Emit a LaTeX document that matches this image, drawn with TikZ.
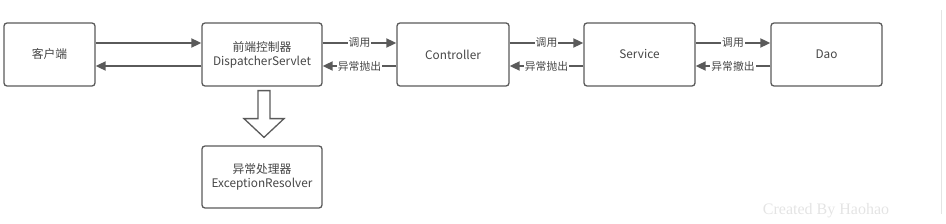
\documentclass[tikz,border=0pt]{standalone}
\usepackage{fontspec}
\setmainfont{Noto Sans CJK SC}
\newfontfamily\markfont{Liberation Serif}
\usetikzlibrary{arrows.meta, positioning, calc}
\definecolor{linegray}{RGB}{90, 90, 90}
\definecolor{textgray}{RGB}{70, 70, 70}
\definecolor{markgray}{RGB}{228, 228, 228}

\tikzset{
  box/.style={draw=linegray, rounded corners=3pt, line width=1.3pt, fill=white,
              minimum height=63pt, align=center, text=textgray,
              font=\fontsize{11.8}{14}\selectfont, inner sep=2pt},
  flow/.style={draw=linegray, line width=1.8pt,
               -{Triangle[length=10pt, width=9pt]}},
  tag/.style={fill=white, text=textgray, inner sep=1pt,
              font=\fontsize{10.8}{12}\selectfont}
}

\begin{document}
\begin{tikzpicture}[x=1pt, y=-1pt]
  \useasboundingbox (0,0) rectangle (946,224);
  \draw[markgray, line width=0.8pt] (941,10) -- (941,214);

  % main row
  \node[box, minimum width=91pt]  (client) at (49.5,54.5)  {客户端};
  \node[box, minimum width=120pt] (ds)     at (262,54.5)   {前端控制器\\DispatcherServlet};
  \node[box, minimum width=112pt] (ctrl)   at (453,54.5)   {Controller};
  \node[box, minimum width=111pt] (svc)    at (639.5,54.5) {Service};
  \node[box, minimum width=111pt] (dao)    at (826.5,54.5) {Dao};
  \node[box, minimum width=120pt, minimum height=62pt] (resolver) at (262,177)
       {异常处理器\\ExceptionResolver};

  % calls
  \draw[flow] ([yshift=11.5pt]client.east) -- ([yshift=11.5pt]ds.west);
  \draw[flow] ([yshift=-11.5pt]ds.west) -- ([yshift=-11.5pt]client.east);
  \draw[flow] ([yshift=11.5pt]ds.east) -- node[tag]{调用} ([yshift=11.5pt]ctrl.west);
  \draw[flow] ([yshift=-11.5pt]ctrl.west) -- node[tag]{异常抛出} ([yshift=-11.5pt]ds.east);
  \draw[flow] ([yshift=11.5pt]ctrl.east) -- node[tag]{调用} ([yshift=11.5pt]svc.west);
  \draw[flow] ([yshift=-11.5pt]svc.west) -- node[tag]{异常抛出} ([yshift=-11.5pt]ctrl.east);
  \draw[flow] ([yshift=11.5pt]svc.east) -- node[tag]{调用} ([yshift=11.5pt]dao.west);
  \draw[flow] ([yshift=-11.5pt]dao.west) -- node[tag]{异常撤出} ([yshift=-11.5pt]svc.east);

  % hollow arrow down to the resolver
  \draw[linegray, line width=1.3pt, line join=miter]
    ($(ds.south)+(-4,4)$) -- ++(0,28) -- ++(-14,0) -- ($(resolver.north)+(2,-8)$)
    -- ($(ds.south)+(22,32)$) -- ++(-14,0) -- ++(0,-28) -- cycle;

  \node[text=markgray, font=\markfont\fontsize{16}{18}\selectfont, anchor=base]
       (mark) at (826,215) {Created By Haohao};
\end{tikzpicture}
\end{document}
